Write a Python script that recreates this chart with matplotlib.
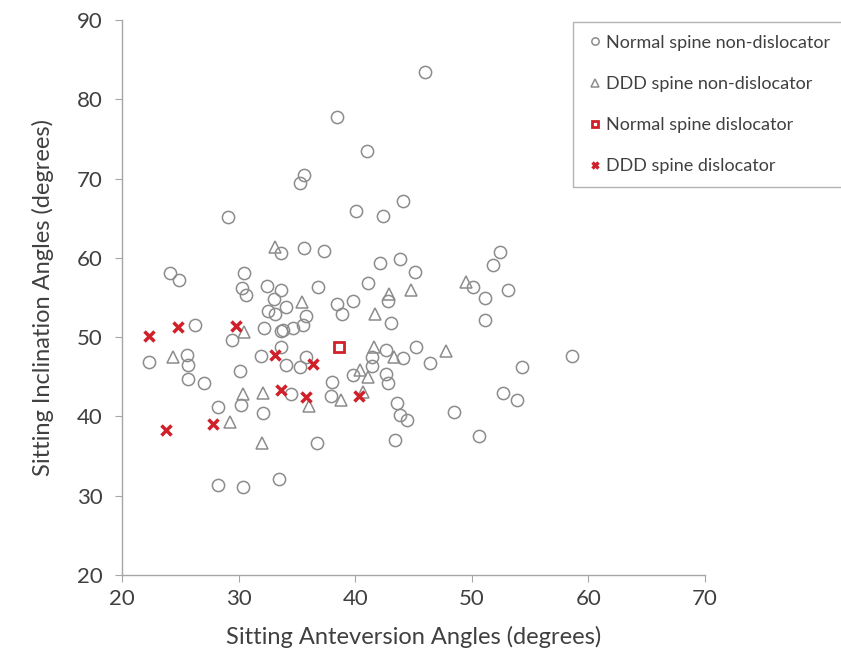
import matplotlib
matplotlib.use("Agg")
import matplotlib.pyplot as plt

# Normal spine non-dislocator (circles)
normal_nd_x = [24.1, 24.9, 30.5, 30.3, 30.6, 32.4, 33.6, 33.0, 34.1, 32.5, 33.1, 35.8, 35.5, 34.7,
               33.8, 33.6, 32.2, 36.8, 26.3, 29.4, 22.3, 25.6, 25.7, 25.7, 27.0, 30.1, 31.9, 33.6,
               34.1, 35.3, 35.8, 34.5, 30.2, 28.2, 32.1, 36.7, 28.2, 30.4, 33.5,
               35.6, 37.3, 33.6, 42.1, 43.8, 45.1, 41.1, 42.8, 38.4, 38.9, 39.8, 43.1, 50.1, 51.1,
               51.8, 51.1, 52.4, 42.6, 44.1, 45.2, 46.4, 41.4, 41.4, 39.8, 42.6, 42.8, 38.0, 37.9,
               43.6, 43.8, 44.4, 48.5, 50.6, 43.4, 53.1, 58.6, 54.3, 52.7, 53.9,
               46.0, 38.4, 41.0, 35.6, 35.3, 40.1, 42.4, 44.1, 29.1]
normal_nd_y = [58.1, 57.2, 58.1, 56.2, 55.3, 56.5, 56.0, 54.8, 53.8, 53.3, 52.9, 52.7, 51.5, 51.2,
               50.9, 50.8, 51.2, 56.3, 51.5, 49.7, 46.9, 47.8, 46.5, 44.7, 44.2, 45.7, 47.6, 48.7,
               46.5, 46.2, 47.5, 42.8, 41.5, 41.2, 40.4, 36.6, 31.4, 31.1, 32.1,
               61.3, 60.9, 60.6, 59.3, 59.8, 58.2, 56.8, 54.6, 54.2, 52.9, 54.6, 51.8, 56.3, 55.0,
               59.1, 52.1, 60.8, 48.4, 47.4, 48.7, 46.7, 47.5, 46.3, 45.2, 45.4, 44.2, 44.3, 42.6,
               41.7, 40.2, 39.5, 40.6, 37.5, 37.0, 55.9, 47.6, 46.2, 42.9, 42.1,
               83.4, 77.8, 73.5, 70.5, 69.4, 65.9, 65.3, 67.2, 65.2]

# DDD spine non-dislocator (triangles)
ddd_nd_x = [35.4, 30.5, 24.4, 36.0, 30.4, 32.1, 29.3, 32.0, 33.1, 42.9, 44.8, 41.7, 49.5,
            41.6, 43.3, 47.8, 40.4, 41.1, 38.8, 40.7]
ddd_nd_y = [54.4, 50.7, 47.5, 41.3, 42.8, 42.9, 39.3, 36.6, 61.4, 55.4, 56.0, 52.9, 57.0,
            48.8, 47.5, 48.3, 45.9, 45.0, 42.1, 43.1]

# Normal spine dislocator (square)
normal_d_x = [38.6]
normal_d_y = [48.7]

# DDD spine dislocator (crosses)
ddd_d_x = [22.3, 24.8, 29.8, 33.1, 36.4, 33.6, 35.8, 27.8, 23.8, 40.3]
ddd_d_y = [50.2, 51.3, 51.4, 47.8, 46.6, 43.3, 42.5, 39.0, 38.3, 42.6]

labels = ["Normal spine non-dislocator", "DDD spine non-dislocator",
          "Normal spine dislocator", "DDD spine dislocator"]

plt.rcParams['font.family'] = ['Lato', 'DejaVu Sans']
gray = "#8c8c8c"
red = "#d0202a"
txt = "#404040"

fig = plt.figure(figsize=(8.41, 6.55), dpi=100)
ax = fig.add_axes([122/841, 1-575/655, (705-122)/841, (575-20)/655])

ax.plot(normal_nd_x, normal_nd_y, 'o', ms=8.8, mfc='none', mec=gray, mew=1.1, label=labels[0])
ax.plot(ddd_nd_x, ddd_nd_y, '^', ms=8.8, mfc='none', mec=gray, mew=1.1, label=labels[1])
ax.plot(normal_d_x, normal_d_y, 's', ms=7.5, mfc='none', mec=red, mew=2.0, label=labels[2])
ax.plot(ddd_d_x, ddd_d_y, 'x', ms=7.5, mec=red, mew=2.5, label=labels[3])

ax.set_xlim(20, 70)
ax.set_ylim(20, 90)
ax.set_xticks(range(20, 71, 10))
ax.set_yticks(range(20, 91, 10))
for s in ['top', 'right']:
    ax.spines[s].set_visible(False)
for s in ['left', 'bottom']:
    ax.spines[s].set_color('#a6a6a6')
    ax.spines[s].set_linewidth(1.0)
ax.tick_params(axis='both', direction='out', length=5, color='#a6a6a6', labelsize=16,
               labelcolor=txt)
ax.tick_params(axis='y', pad=9)
ax.tick_params(axis='x', pad=5)
ax.set_xlabel("Sitting Anteversion Angles (degrees)", fontsize=17, color=txt, labelpad=12)
ax.set_ylabel("Sitting Inclination Angles (degrees)", fontsize=17, color=txt, labelpad=16)

leg = fig.legend(loc='upper left', bbox_to_anchor=(573/841, 1-22/655), fontsize=13,
                 frameon=True, fancybox=False, edgecolor='#a0a0a0', labelspacing=1.4,
                 handletextpad=0.1, handlelength=1.0, borderpad=0.7, markerscale=0.6,
                 labelcolor=txt, borderaxespad=0)
leg.get_frame().set_linewidth(1.0)

fig.savefig("out.png", dpi=100)
